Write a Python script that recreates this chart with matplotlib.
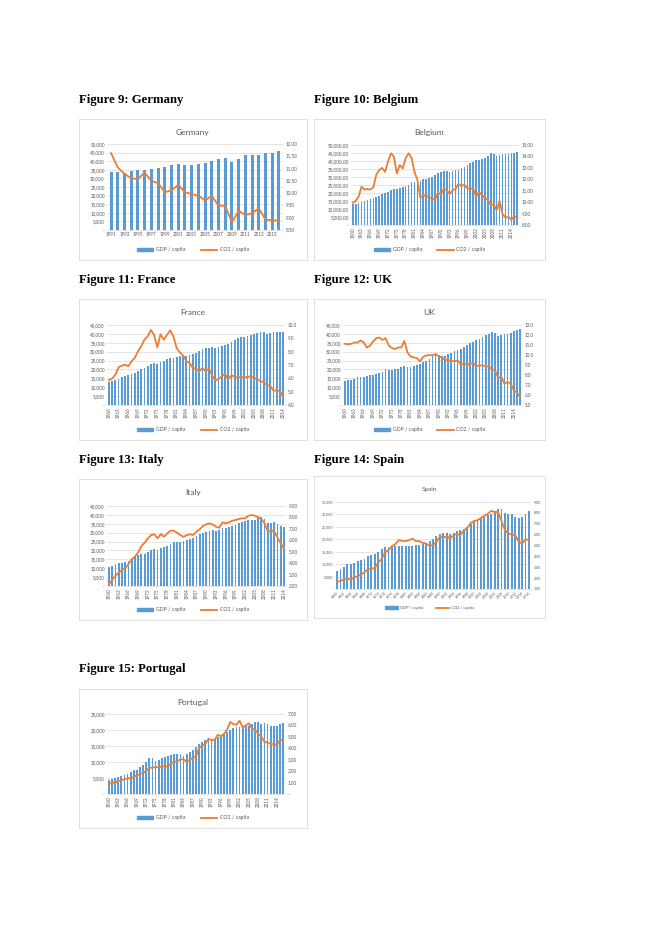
import numpy as np
import matplotlib.pyplot as plt
from matplotlib.ticker import FuncFormatter, MultipleLocator
from matplotlib.patches import Patch
from matplotlib.lines import Line2D

W, H = 662, 936
BLUE = '#5B9BD5'
ORANGE = '#ED7D31'
GRID = '#D9D9D9'
TXT = '#595959'

plt.rcParams['font.family'] = ['Lato', 'DejaVu Sans']

# ---------------- data ----------------
de_years = list(range(1991, 2017))
de_gdp = [33700, 33700, 33300, 34400, 34600, 34800, 35400, 36000, 36600, 37700,
          38300, 37900, 37700, 38300, 38700, 40100, 41300, 41800, 39500, 41300,
          43600, 43800, 43800, 44600, 45000, 45700]
de_co2 = [11.63, 11.05, 10.78, 10.61, 10.57, 10.84, 10.50, 10.41, 10.04, 10.11,
          10.34, 10.04, 9.96, 9.90, 9.70, 9.89, 9.49, 9.48, 8.81, 9.28,
          9.11, 9.18, 9.39, 8.91, 8.91, 8.87]

be_years = list(range(1960, 2017))
be_gdp = [12900, 13400, 14000, 14600, 15300, 15700, 16100, 16600, 17300, 18200,
          19300, 19900, 20700, 21800, 22500, 22300, 23200, 23500, 24200, 25000,
          27000, 26800, 27200, 27500, 28500, 28800, 29300, 30200, 31400, 32400,
          33300, 33600, 33800, 33300, 34000, 34400, 34600, 35700, 36300, 37500,
          38800, 39100, 40400, 40600, 41400, 42000, 43100, 44800, 44200, 43300,
          44000, 44200, 44100, 44300, 44900, 45300, 45800]
be_co2 = [9.95, 10.1, 10.5, 11.35, 11.1, 11.15, 11.1, 11.3, 12.4, 12.8,
          13.0, 12.65, 13.55, 14.27, 14.0, 12.5, 13.25, 12.95, 13.85, 14.27,
          13.9, 12.65, 11.95, 10.4, 10.6, 10.55, 10.4, 10.35, 10.2, 10.8,
          10.7, 11.15, 11.05, 10.7, 11.05, 11.15, 11.6, 11.4, 11.55, 11.2,
          11.2, 11.15, 10.5, 10.9, 10.6, 10.35, 10.2, 9.75, 9.8, 9.3,
          10.1, 8.95, 8.65, 8.7, 8.45, 8.8, 8.6]

fr_years = list(range(1960, 2015))
fr_gdp = [13000, 13600, 14300, 14900, 15700, 16200, 16900, 17600, 18200, 19300,
          20200, 21000, 21800, 22900, 23500, 23300, 24300, 25000, 25700, 26500,
          26700, 26800, 27300, 27400, 27700, 28000, 28600, 29200, 30300, 31300,
          32000, 32300, 32600, 32300, 32900, 33400, 33700, 34400, 35500, 36700,
          37900, 38300, 38500, 38600, 39300, 39800, 40500, 41300, 41200, 40000,
          40600, 41100, 41000, 41100, 41200]
fr_co2 = [5.86, 5.98, 6.28, 6.83, 6.95, 7.03, 6.9, 7.28, 7.52, 8.02,
          8.4, 8.9, 9.14, 9.63, 9.26, 8.32, 9.31, 8.89, 9.26, 9.6,
          9.14, 8.27, 7.95, 7.72, 7.28, 7.15, 6.78, 6.73, 6.53, 6.78,
          6.53, 6.73, 6.23, 5.84, 5.96, 6.16, 6.33, 5.91, 6.23, 6.11,
          6.03, 6.11, 6.03, 6.13, 6.13, 6.08, 5.91, 5.79, 5.71, 5.49,
          5.44, 5.09, 5.09, 5.04, 4.62]

uk_years = list(range(1960, 2017))
uk_gdp = [13750, 14100, 14300, 14900, 15500, 15700, 15900, 16200, 16700, 17100,
          17500, 17800, 18500, 20000, 19800, 19700, 20000, 20500, 21300, 22000,
          21400, 21300, 21700, 22500, 23000, 24000, 25000, 26000, 27300, 28000,
          28200, 27800, 27800, 28500, 29500, 30200, 30800, 31600, 32500, 33500,
          34800, 35500, 36300, 37300, 38300, 39200, 40200, 41200, 40700, 38900,
          39300, 39700, 40000, 40600, 41500, 42200, 42700]
uk_co2 = [11.12, 11.08, 11.12, 11.25, 11.25, 11.45, 11.28, 10.75, 10.92, 11.35,
          11.68, 11.75, 11.5, 11.68, 10.95, 10.7, 10.6, 10.75, 10.75, 11.4,
          10.25, 9.86, 9.76, 9.7, 9.36, 9.8, 9.96, 10.0, 9.96, 10.1,
          9.86, 9.76, 9.53, 9.46, 9.43, 9.36, 9.46, 9.1, 9.1, 9.03,
          9.13, 9.2, 8.87, 8.97, 8.94, 8.87, 8.83, 8.6, 8.44, 7.71,
          7.81, 7.12, 7.31, 7.12, 6.45, 6.22, 5.79]

it_years = list(range(1960, 2015))
it_gdp = [10500, 11400, 12200, 12750, 12900, 13300, 14200, 15200, 16300, 17200,
          17800, 18200, 18900, 20250, 20800, 20100, 21200, 21800, 22500, 23800,
          24600, 24800, 24700, 25100, 25700, 26400, 27200, 27900, 29100, 30000,
          30600, 31100, 31300, 30900, 31500, 32400, 32800, 33400, 34000, 34500,
          35600, 36200, 36800, 36900, 37100, 37300, 38000, 38600, 37700, 35300,
          35600, 36000, 34700, 33800, 33400]
it_co2 = [2.17, 2.52, 2.9, 3.17, 3.4, 3.55, 3.9, 4.33, 4.57, 4.94,
          5.5, 5.79, 6.17, 6.46, 6.52, 6.17, 6.55, 6.31, 6.6, 6.84,
          6.84, 6.66, 6.46, 6.31, 6.46, 6.52, 6.46, 6.75, 6.96, 7.25,
          7.39, 7.48, 7.39, 7.19, 7.1, 7.57, 7.48, 7.57, 7.71, 7.77,
          7.86, 7.92, 7.92, 8.15, 8.21, 8.15, 8.03, 7.86, 7.48, 6.75,
          6.84, 6.75, 6.23, 5.73, 5.24]

es_years = list(range(1960, 2017))
es_gdp = [7300, 8000, 8800, 9900, 10100, 10500, 11200, 11600, 12100, 13100,
          13600, 14000, 15000, 16000, 16800, 16700, 17100, 17400, 17400, 17200,
          17200, 17200, 17400, 17600, 17800, 18000, 18600, 19400, 20300, 21200,
          22000, 22600, 22700, 22300, 22700, 23200, 23600, 24300, 25100, 26000,
          27000, 27900, 28600, 29100, 29600, 30300, 31400, 32000, 32000, 30600,
          30300, 30000, 29100, 28700, 29100, 30300, 31200]
es_co2 = [1.67, 1.73, 1.89, 1.95, 1.89, 2.04, 2.19, 2.34, 2.53, 2.83,
          2.89, 2.92, 3.44, 3.75, 4.36, 4.57, 4.94, 5.12, 5.49, 5.43,
          5.4, 5.49, 5.64, 5.4, 5.4, 5.24, 5.18, 4.97, 5.03, 5.34,
          5.79, 5.73, 5.85, 5.64, 5.95, 6.07, 5.95, 6.4, 6.62, 7.08,
          7.26, 7.32, 7.56, 7.72, 7.93, 8.18, 8.08, 8.08, 7.23, 6.4,
          6.1, 6.0, 5.95, 5.34, 5.18, 5.58, 5.49]

pt_years = list(range(1960, 2017))
pt_gdp = [4300, 4700, 5000, 5300, 5600, 6000, 6350, 6900, 7500, 7600,
          8500, 9100, 10000, 11250, 11250, 10300, 10700, 11250, 11500, 11900,
          12200, 12400, 12500, 12400, 12000, 12400, 13100, 13800, 14700, 15600,
          16400, 17000, 17400, 17200, 17300, 17700, 18100, 18750, 19400, 20100,
          20600, 20900, 21000, 20900, 21100, 21300, 21900, 22400, 22500, 21900,
          22300, 22000, 21100, 21100, 21300, 21900, 22300]
pt_co2 = [0.9, 0.96, 1.02, 1.11, 1.22, 1.28, 1.37, 1.4, 1.49, 1.63,
          1.75, 1.84, 2.04, 2.27, 2.33, 2.33, 2.39, 2.36, 2.45, 2.39,
          2.68, 2.8, 2.86, 3.03, 3.03, 2.8, 3.0, 3.15, 3.27, 4.02,
          4.26, 4.37, 4.81, 4.72, 4.75, 5.19, 5.04, 5.28, 5.63, 6.3,
          6.12, 6.06, 6.41, 5.83, 6.01, 6.18, 5.71, 5.63, 5.25, 5.04,
          4.55, 4.52, 4.37, 4.37, 4.31, 4.75, 4.69]


# ---------------- helpers ----------------
def fx(x):
    return x / W


def fy(y):
    return 1 - y / H


def dash0(fmt):
    return FuncFormatter(lambda v, p: '-' if abs(v) < 1e-9 else fmt.format(v))


def panel(fig, box, plot, title, years, gdp, co2, gdp_max, co2_lim, co2_step,
          gdp_fmt, co2_fmt, every, rot, small=False, bw=0.55):
    fs = 2.6 if small else 3.3
    tfs = 4.6 if small else 6.0
    bx0, by0, bx1, by1 = box
    bg = fig.add_axes([fx(bx0), fy(by1), (bx1 - bx0) / W, (by1 - by0) / H])
    bg.set_xticks([])
    bg.set_yticks([])
    for s in bg.spines.values():
        s.set_color(GRID)
        s.set_linewidth(0.6)
    bg.text(0.5, 1 - 13.5 / (by1 - by0), title, ha='center', va='center',
            fontsize=tfs, color=TXT, transform=bg.transAxes)

    px0, py0, px1, py1 = plot
    ax = fig.add_axes([fx(px0), fy(py1), (px1 - px0) / W, (py1 - py0) / H])
    x = np.arange(len(years))
    ax.bar(x, gdp, width=bw, color=BLUE, zorder=2)
    ax.set_xlim(-0.6, len(years) - 0.4)
    ax.set_ylim(0, gdp_max)
    ax.yaxis.set_major_locator(MultipleLocator(5000))
    ax.yaxis.set_major_formatter(dash0(gdp_fmt))
    ax.grid(axis='y', color=GRID, lw=0.5)
    ax.set_axisbelow(True)
    ticks = x[::every]
    ax.set_xticks(ticks)
    if rot == 45:
        ax.set_xticklabels([str(years[i]) for i in ticks], rotation=45,
                           ha='right', rotation_mode='anchor')
    else:
        ax.set_xticklabels([str(years[i]) for i in ticks], rotation=rot)
    for s in ['top', 'left', 'right']:
        ax.spines[s].set_visible(False)
    ax.spines['bottom'].set_color(GRID)
    ax.spines['bottom'].set_linewidth(0.5)
    ax.tick_params(length=0, labelsize=fs, labelcolor=TXT, pad=1.5)

    ax2 = ax.twinx()
    ax2.plot(x, co2, color=ORANGE, lw=1.3, zorder=3)
    ax2.set_ylim(*co2_lim)
    ax2.yaxis.set_major_locator(MultipleLocator(co2_step))
    ax2.yaxis.set_major_formatter(dash0(co2_fmt))
    for s in ax2.spines.values():
        s.set_visible(False)
    ax2.tick_params(length=0, labelsize=fs, labelcolor=TXT, pad=2)

    handles = [Patch(color=BLUE), Line2D([], [], color=ORANGE, lw=1.3)]
    fig.legend(handles, ['GDP / capita', 'CO2 / capita'], ncol=2, frameon=False,
               loc='center', bbox_to_anchor=(fx((bx0 + bx1) / 2), fy(by1 - 10)),
               fontsize=fs + 0.4, labelcolor=TXT, handlelength=3.2,
               handleheight=0.5, columnspacing=3, handletextpad=0.5)


fig = plt.figure(figsize=(W / 100, H / 100), dpi=100)

labels = [('Figure 9: Germany', 79, 100), ('Figure 10: Belgium', 314, 100),
          ('Figure 11: France', 79, 280), ('Figure 12: UK', 314, 280),
          ('Figure 13: Italy', 79, 460), ('Figure 14: Spain', 314, 460),
          ('Figure 15: Portugal', 79, 669)]
for t, lx, ly in labels:
    fig.text(fx(lx), fy(ly), t, fontsize=9.2, fontweight='bold',
             family='Liberation Serif', ha='left', va='center')

panel(fig, (79, 119, 307, 260), (107, 144, 283, 230), 'Germany', de_years, de_gdp,
      de_co2, 50000, (8.5, 12.0), 0.5, '{:,.0f}', '{:.2f}', 2, 0, bw=0.45)
panel(fig, (314, 119, 545, 260), (351, 145, 519, 225), 'Belgium', be_years, be_gdp,
      be_co2, 50000, (8.0, 15.0), 1.0, '{:,.2f}', '{:.2f}', 3, 90)
panel(fig, (79, 299, 307, 440), (107, 325, 285, 405), 'France', fr_years, fr_gdp,
      fr_co2, 45000, (4.0, 10.0), 1.0, '{:,.0f}', '{:.1f}', 3, 90)
panel(fig, (314, 299, 545, 440), (343, 325, 522, 405), 'UK', uk_years, uk_gdp,
      uk_co2, 45000, (5.0, 13.0), 1.0, '{:,.0f}', '{:.1f}', 3, 90)
panel(fig, (79, 479, 307, 620), (107, 506, 286, 586), 'Italy', it_years, it_gdp,
      it_co2, 45000, (2.0, 9.0), 1.0, '{:,.0f}', '{:.2f}', 3, 90)
panel(fig, (314, 476, 545, 618), (335, 502, 531, 589), 'Spain', es_years, es_gdp,
      es_co2, 35000, (1.0, 9.0), 1.0, '{:,.0f}', '{:.2f}', 2, 45, small=True)
panel(fig, (79, 689, 307, 828), (107, 714, 285, 794), 'Portugal', pt_years, pt_gdp,
      pt_co2, 25000, (0.0, 7.0), 1.0, '{:,.0f}', '{:.2f}', 3, 90)

fig.savefig('out.png', dpi=100)
